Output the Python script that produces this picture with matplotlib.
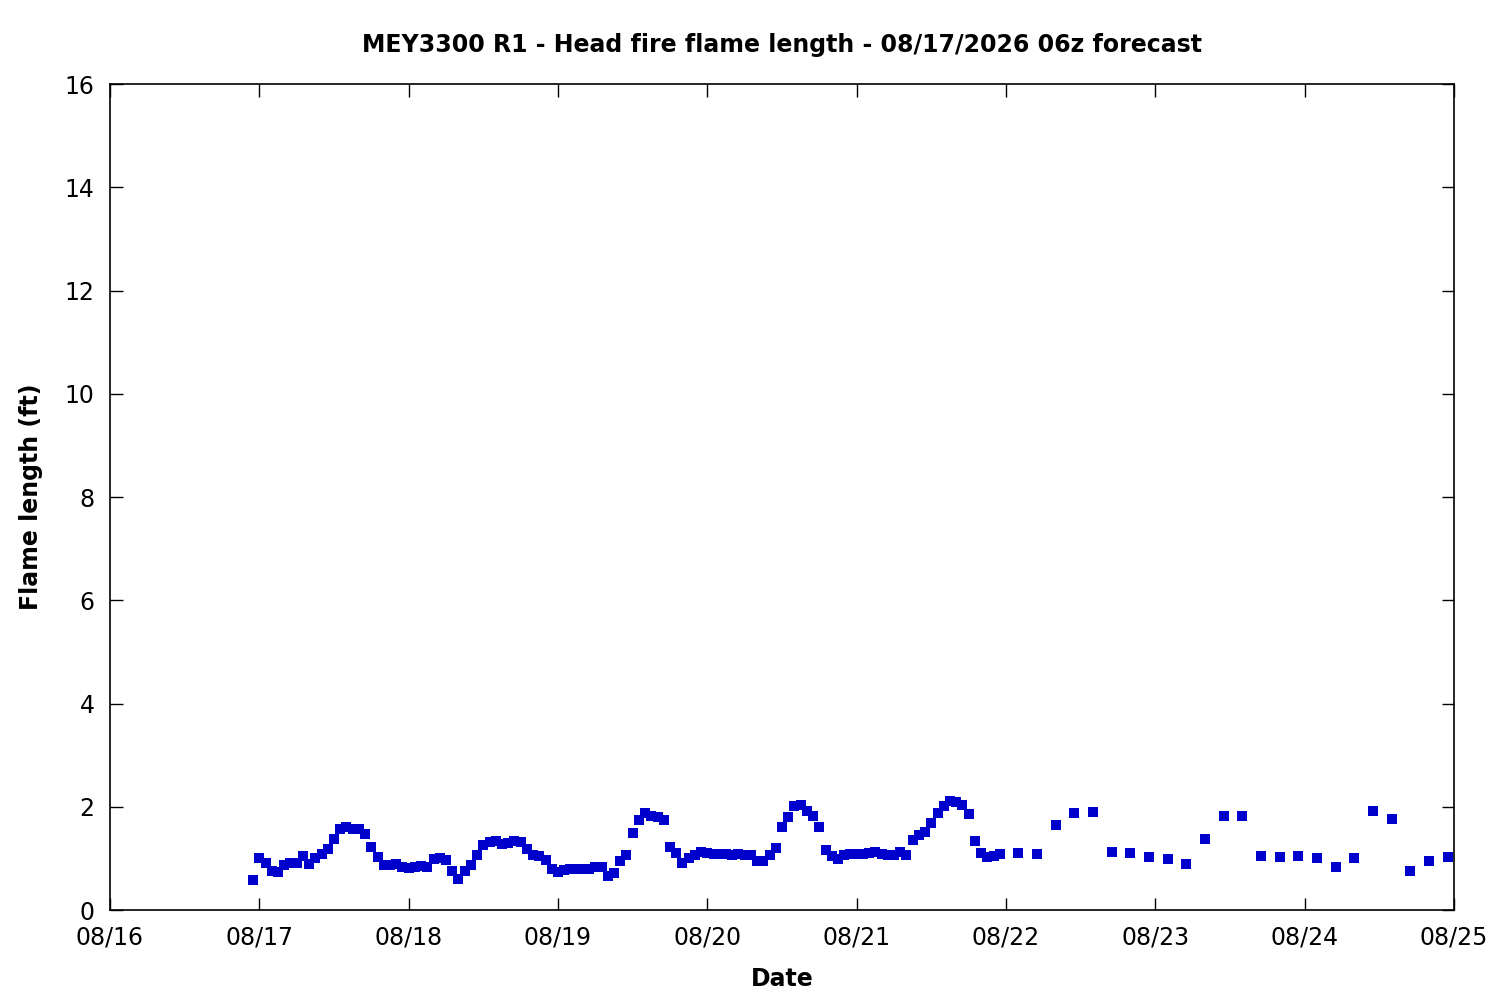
import pandas as pd
import matplotlib
matplotlib.use("Agg")
import matplotlib.pyplot as plt
import matplotlib.dates as mdates

# hourly forecast, starting 08/16 23:00
hourly_start = "2026-08-16 23:00"
hourly_flame = [
    0.59, 1.00, 0.92, 0.75, 0.73, 0.87, 0.92, 0.92, 1.04, 0.90,
    1.00, 1.08, 1.19, 1.37, 1.56, 1.60, 1.56, 1.56, 1.47, 1.23,
    1.02, 0.87, 0.87, 0.89, 0.83, 0.81, 0.83, 0.85, 0.83, 0.99,
    1.00, 0.96, 0.75, 0.61, 0.75, 0.87, 1.06, 1.25, 1.31, 1.33,
    1.27, 1.29, 1.33, 1.31, 1.19, 1.06, 1.04, 0.96, 0.79, 0.73,
    0.77, 0.79, 0.79, 0.79, 0.79, 0.83, 0.83, 0.65, 0.71, 0.94,
    1.06, 1.50, 1.74, 1.87, 1.83, 1.81, 1.74, 1.23, 1.10, 0.92,
    1.00, 1.06, 1.12, 1.10, 1.08, 1.08, 1.08, 1.06, 1.08, 1.06,
    1.06, 0.94, 0.94, 1.06, 1.21, 1.60, 1.81, 2.01, 2.03, 1.91,
    1.83, 1.60, 1.16, 1.04, 0.98, 1.06, 1.08, 1.08, 1.08, 1.10,
    1.12, 1.08, 1.06, 1.06, 1.12, 1.06, 1.35, 1.45, 1.52, 1.68,
    1.87, 2.01, 2.11, 2.09, 2.03, 1.85, 1.33, 1.10, 1.02, 1.04,
    1.08,
]

# 3-hourly forecast, starting 08/22 02:00
threehr_start = "2026-08-22 02:00"
threehr_flame = [
    1.10, 1.08, 1.64, 1.87, 1.89, 1.12, 1.10, 1.02, 0.98, 0.89,
    1.37, 1.83, 1.83, 1.04, 1.02, 1.04, 1.00, 0.83, 1.00, 1.91,
    1.76, 0.75, 0.94, 1.02,
]

t1 = pd.date_range(hourly_start, periods=len(hourly_flame), freq="h")
t2 = pd.date_range(threehr_start, periods=len(threehr_flame), freq="3h")
times = t1.append(t2)
flame = hourly_flame + threehr_flame

fig = plt.figure(figsize=(15, 10), dpi=100)
ax = fig.add_axes([0.0733, 0.09, 0.896, 0.826])

ax.plot(times, flame, linestyle="none", marker="s", markersize=6.5,
        color="#0000cc", markeredgewidth=0)

ax.set_xlim(pd.Timestamp("2026-08-16"), pd.Timestamp("2026-08-25"))
ax.set_ylim(0, 16)
ax.set_yticks(range(0, 17, 2))
ax.xaxis.set_major_locator(mdates.DayLocator())
ax.xaxis.set_major_formatter(mdates.DateFormatter("%m/%d"))

ax.tick_params(direction="in", length=9, width=1, top=True, right=True,
               labelsize=17)
ax.tick_params(axis="x", pad=11)
ax.tick_params(axis="y", pad=11)
for s in ax.spines.values():
    s.set_linewidth(1.2)

ax.set_title("MEY3300 R1 - Head fire flame length - 08/17/2026 06z forecast",
             fontsize=17, fontweight="bold", pad=23)
ax.set_xlabel("Date", fontsize=17, fontweight="bold", labelpad=13)
ax.set_ylabel("Flame length (ft)", fontsize=17, fontweight="bold", labelpad=16)

fig.savefig("out.png", dpi=100)
